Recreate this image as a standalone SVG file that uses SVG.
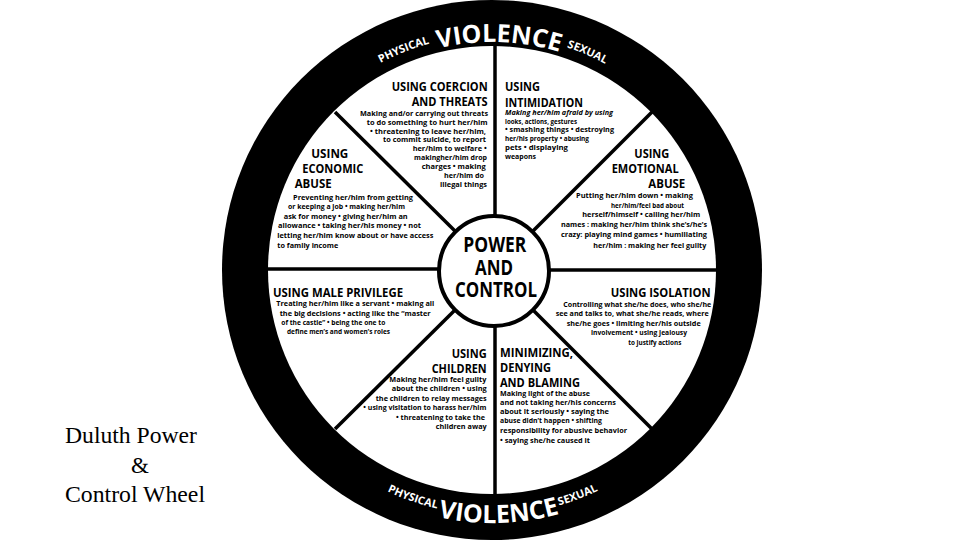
<svg xmlns="http://www.w3.org/2000/svg" width="960" height="540" viewBox="0 0 960 540">
<style>
.b{font-family:"Open Sans","Liberation Sans",sans-serif;font-weight:bold;font-size:7.6px;fill:#000}
.h{font-family:"Open Sans","Liberation Sans",sans-serif;font-weight:bold;font-size:11.5px;fill:#000}
.c{font-family:"Open Sans","Liberation Sans",sans-serif;font-weight:bold;font-size:21px;fill:#000}
.rv{font-family:"Open Sans","Liberation Sans",sans-serif;font-weight:bold;font-size:25px;fill:#fff}
.rs{font-family:"Open Sans","Liberation Sans",sans-serif;font-weight:bold;font-size:11px;fill:#fff}
.t{font-family:"Liberation Serif","Times New Roman",serif;font-size:23px;fill:#000}
.sp{stroke:#000;stroke-width:3.5;fill:none}
</style>
<defs>
<path id="topV" d="M 263 271 A 229 229 0 0 1 721 271"/>
<path id="topS" d="M 256 271 A 236 236 0 0 1 728 271"/>
<path id="botV" d="M 240 271 A 252 252 0 0 0 744 271"/>
<path id="botS" d="M 248 271 A 244 244 0 0 0 736 271"/>
</defs>
<rect width="960" height="540" fill="#fff"/>
<g id="ring">
<circle cx="492" cy="270" r="270" fill="#000"/>
<circle cx="492" cy="270" r="224" fill="#fff"/>
<text class="rs"><textPath href="#topS" startOffset="37.9%" text-anchor="middle">PHYSICAL</textPath></text>
<text class="rv"><textPath href="#topV" startOffset="51%" text-anchor="middle">VIOLENCE</textPath></text>
<text class="rs"><textPath href="#topS" startOffset="63.1%" text-anchor="middle">SEXUAL</textPath></text>
<text class="rs"><textPath href="#botS" startOffset="39.3%" text-anchor="middle">PHYSICAL</textPath></text>
<text class="rv"><textPath href="#botV" startOffset="50.9%" text-anchor="middle">VIOLENCE</textPath></text>
<text class="rs"><textPath href="#botS" startOffset="61.6%" text-anchor="middle">SEXUAL</textPath></text>
</g>
<g id="connectors">
<line class="sp" x1="495" y1="45" x2="495" y2="217"/>
<line class="sp" x1="495" y1="325" x2="495" y2="495"/>
<line class="sp" x1="268" y1="269" x2="440" y2="269"/>
<line class="sp" x1="548" y1="270" x2="716" y2="270"/>
<line class="sp" x1="335" y1="112" x2="456" y2="232"/>
<line class="sp" x1="652" y1="112" x2="532" y2="232"/>
<line class="sp" x1="335" y1="429" x2="456" y2="309"/>
<line class="sp" x1="652" y1="429" x2="532" y2="309"/>
</g>
<g id="hub">
<circle cx="494" cy="271" r="55" fill="#fff" stroke="#000" stroke-width="4"/>
<text class="c" x="463.3" y="251.7" textLength="63" lengthAdjust="spacingAndGlyphs">POWER</text>
<text class="c" x="475" y="275" textLength="38" lengthAdjust="spacingAndGlyphs">AND</text>
<text class="c" x="455" y="297.3" textLength="82" lengthAdjust="spacingAndGlyphs">CONTROL</text>
</g>
<g id="coercion">
<text class="h" x="391.7" y="90.7" textLength="96" lengthAdjust="spacingAndGlyphs">USING COERCION</text>
<text class="h" x="411.7" y="105.7" textLength="76" lengthAdjust="spacingAndGlyphs">AND THREATS</text>
<text class="b" x="360" y="115.5" textLength="128" lengthAdjust="spacingAndGlyphs">Making and/or carrying out threats</text>
<text class="b" x="366.7" y="124.5" textLength="121" lengthAdjust="spacingAndGlyphs">to do something to hurt her/him</text>
<text class="b" x="370" y="133.5" textLength="116" lengthAdjust="spacingAndGlyphs">• threatening to leave her/him,</text>
<text class="b" x="383" y="142.3" textLength="103" lengthAdjust="spacingAndGlyphs">to commit suicide, to report</text>
<text class="b" x="412.7" y="151.2" textLength="74" lengthAdjust="spacingAndGlyphs">her/him to welfare •</text>
<text class="b" x="414" y="160" textLength="73" lengthAdjust="spacingAndGlyphs">makingher/him drop</text>
<text class="b" x="421.7" y="169" textLength="64" lengthAdjust="spacingAndGlyphs">charges • making</text>
<text class="b" x="444" y="178" textLength="40" lengthAdjust="spacingAndGlyphs">her/him do</text>
<text class="b" x="440" y="187" textLength="47" lengthAdjust="spacingAndGlyphs">illegal things</text>
</g>
<g id="intimidation">
<text class="h" x="505" y="91" textLength="35" lengthAdjust="spacingAndGlyphs">USING</text>
<text class="h" x="505" y="106.7" textLength="78" lengthAdjust="spacingAndGlyphs">INTIMIDATION</text>
<text class="b" x="505" y="115" textLength="108" lengthAdjust="spacingAndGlyphs" font-style="italic">Making her/him afraid by using</text>
<text class="b" x="505" y="123.6" textLength="72" lengthAdjust="spacingAndGlyphs" font-weight="normal">looks, actions, gestures</text>
<text class="b" x="505" y="132.3" textLength="109" lengthAdjust="spacingAndGlyphs">• smashing things • destroying</text>
<text class="b" x="505" y="141.3" textLength="84" lengthAdjust="spacingAndGlyphs">her/his property • abusing</text>
<text class="b" x="505" y="150" textLength="63" lengthAdjust="spacingAndGlyphs">pets • displaying</text>
<text class="b" x="505" y="158.7" textLength="31" lengthAdjust="spacingAndGlyphs">weapons</text>
</g>
<g id="economic">
<text class="h" x="311.3" y="157.7" textLength="37" lengthAdjust="spacingAndGlyphs">USING</text>
<text class="h" x="302.3" y="173.3" textLength="61" lengthAdjust="spacingAndGlyphs">ECONOMIC</text>
<text class="h" x="294.7" y="188.3" textLength="37" lengthAdjust="spacingAndGlyphs">ABUSE</text>
<text class="b" x="293" y="200" textLength="120" lengthAdjust="spacingAndGlyphs">Preventing her/him from getting</text>
<text class="b" x="288" y="209" textLength="117" lengthAdjust="spacingAndGlyphs">or keeping a job • making her/him</text>
<text class="b" x="283.7" y="218.7" textLength="124" lengthAdjust="spacingAndGlyphs">ask for money • giving her/him an</text>
<text class="b" x="278" y="228.3" textLength="143" lengthAdjust="spacingAndGlyphs">allowance • taking her/his money • not</text>
<text class="b" x="277.3" y="238" textLength="156" lengthAdjust="spacingAndGlyphs">letting her/him know about or have access</text>
<text class="b" x="277.3" y="248.3" textLength="61" lengthAdjust="spacingAndGlyphs">to family income</text>
</g>
<g id="emotional">
<text class="h" x="634.3" y="158.3" textLength="35" lengthAdjust="spacingAndGlyphs">USING</text>
<text class="h" x="611.7" y="173.3" textLength="67" lengthAdjust="spacingAndGlyphs">EMOTIONAL</text>
<text class="h" x="648.3" y="188.3" textLength="37" lengthAdjust="spacingAndGlyphs">ABUSE</text>
<text class="b" x="576" y="198.3" textLength="117" lengthAdjust="spacingAndGlyphs">Putting her/him down • making</text>
<text class="b" x="611" y="208.3" textLength="73" lengthAdjust="spacingAndGlyphs">her/him/feel bad about</text>
<text class="b" x="582.3" y="217.3" textLength="118" lengthAdjust="spacingAndGlyphs">herself/himself • calling her/him</text>
<text class="b" x="561" y="227.3" textLength="146" lengthAdjust="spacingAndGlyphs">names : making her/him think she’s/he’s</text>
<text class="b" x="561" y="237.3" textLength="146" lengthAdjust="spacingAndGlyphs">crazy: playing mind games • humiliating</text>
<text class="b" x="593.3" y="247.7" textLength="113" lengthAdjust="spacingAndGlyphs">her/him : making her feel guilty</text>
</g>
<g id="privilege">
<text class="h" x="273" y="296.7" textLength="130" lengthAdjust="spacingAndGlyphs">USING MALE PRIVILEGE</text>
<text class="b" x="276.3" y="306" textLength="158" lengthAdjust="spacingAndGlyphs">Treating her/him like a servant • making all</text>
<text class="b" x="279.7" y="315.7" textLength="151" lengthAdjust="spacingAndGlyphs">the big decisions • acting like the “master</text>
<text class="b" x="281.3" y="325" textLength="104" lengthAdjust="spacingAndGlyphs">of the castle” • being the one to</text>
<text class="b" x="287" y="334.3" textLength="103" lengthAdjust="spacingAndGlyphs">define men’s and women’s roles</text>
</g>
<g id="isolation">
<text class="h" x="610.7" y="297.3" textLength="100" lengthAdjust="spacingAndGlyphs">USING ISOLATION</text>
<text class="b" x="563.3" y="306.7" textLength="148" lengthAdjust="spacingAndGlyphs">Controlling what she/he does, who she/he</text>
<text class="b" x="555.7" y="316" textLength="153" lengthAdjust="spacingAndGlyphs">see and talks to, what she/he reads, where</text>
<text class="b" x="566.7" y="326" textLength="134" lengthAdjust="spacingAndGlyphs">she/he goes • limiting her/his outside</text>
<text class="b" x="591" y="335.3" textLength="96" lengthAdjust="spacingAndGlyphs">involvement • using jealousy</text>
<text class="b" x="628.3" y="345" textLength="53" lengthAdjust="spacingAndGlyphs">to justify actions</text>
</g>
<g id="children">
<text class="h" x="451.7" y="358.3" textLength="35" lengthAdjust="spacingAndGlyphs">USING</text>
<text class="h" x="431.7" y="373.3" textLength="55" lengthAdjust="spacingAndGlyphs">CHILDREN</text>
<text class="b" x="389.3" y="382" textLength="97" lengthAdjust="spacingAndGlyphs">Making her/him feel guilty</text>
<text class="b" x="391.7" y="391" textLength="95" lengthAdjust="spacingAndGlyphs">about the children • using</text>
<text class="b" x="375.7" y="400.7" textLength="111" lengthAdjust="spacingAndGlyphs">the children to relay messages</text>
<text class="b" x="363.3" y="410" textLength="123" lengthAdjust="spacingAndGlyphs">• using visitation to harass her/him</text>
<text class="b" x="396" y="420" textLength="89" lengthAdjust="spacingAndGlyphs">• threatening to take the</text>
<text class="b" x="435.7" y="429.3" textLength="51" lengthAdjust="spacingAndGlyphs">children away</text>
</g>
<g id="minimizing">
<text class="h" x="500" y="356.7" textLength="73" lengthAdjust="spacingAndGlyphs">MINIMIZING,</text>
<text class="h" x="500" y="371.7" textLength="51" lengthAdjust="spacingAndGlyphs">DENYING</text>
<text class="h" x="500" y="386.7" textLength="80" lengthAdjust="spacingAndGlyphs">AND BLAMING</text>
<text class="b" x="500" y="395.5" textLength="90" lengthAdjust="spacingAndGlyphs">Making light of the abuse</text>
<text class="b" x="500" y="405" textLength="116" lengthAdjust="spacingAndGlyphs">and not taking her/his concerns</text>
<text class="b" x="500" y="414" textLength="109" lengthAdjust="spacingAndGlyphs">about it seriously • saying the</text>
<text class="b" x="500" y="423.3" textLength="102" lengthAdjust="spacingAndGlyphs">abuse didn’t happen • shifting</text>
<text class="b" x="500" y="433.3" textLength="127" lengthAdjust="spacingAndGlyphs">responsibility for abusive behavior</text>
<text class="b" x="500" y="442.7" textLength="90" lengthAdjust="spacingAndGlyphs">• saying she/he caused it</text>
</g>
<g id="title">
<text class="t" x="65" y="443.3" textLength="132" lengthAdjust="spacingAndGlyphs">Duluth Power</text>
<text class="t" x="131" y="473.3">&amp;</text>
<text class="t" x="65" y="501.7" textLength="140" lengthAdjust="spacingAndGlyphs">Control Wheel</text>
</g>
</svg>
